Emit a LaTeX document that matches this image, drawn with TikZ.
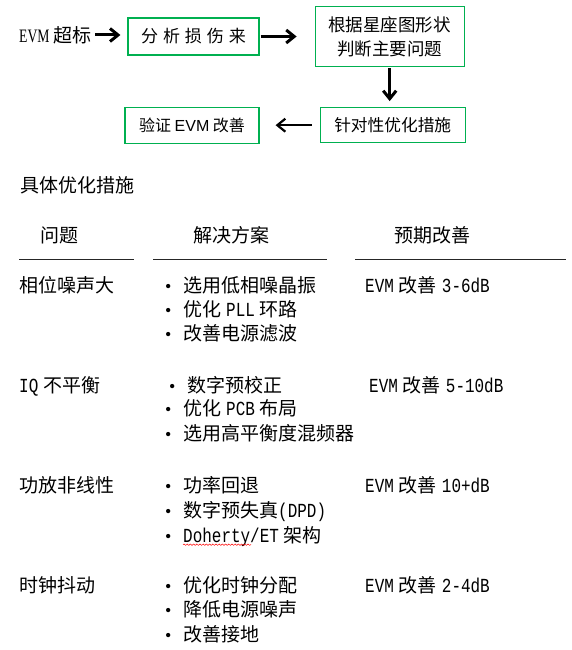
\documentclass[tikz,border=0pt]{standalone}
\usepackage{fontspec}
\setmainfont{Noto Sans CJK SC}
\newfontfamily\tl{Liberation Mono}[FakeStretch=0.8, Scale=1.05]
\newfontfamily\evmfont{Liberation Serif}[FakeStretch=0.72]
\newfontfamily\bulfont{Liberation Serif}
\newfontfamily\boxsans{Liberation Sans}
\usetikzlibrary{arrows.meta,positioning,decorations.pathmorphing}
\definecolor{boxgreen}{RGB}{0,176,80}
\newcommand\bul{\makebox[18pt][l]{\bulfont\fontsize{18}{20}\selectfont\textbullet}}
\newcommand\gap{\hspace{5pt}}

\begin{document}
\begin{tikzpicture}[x=1pt, y=-1pt,
  flow/.style={draw=boxgreen, line width=1.2pt, align=center, inner sep=0pt},
  cell/.style={anchor=west, inner sep=0pt, font=\fontsize{19}{22}\selectfont, text height=16.5pt, text depth=2.5pt},
  rule/.style={line width=0.8pt, black!85},
  >={Straight Barb[length=8pt,width=13pt]}]
\useasboundingbox (0,0) rectangle (572,650);

% flow chart
\node[flow, minimum width=131pt, minimum height=37pt, font=\fontsize{17}{20}\selectfont] (analyse) at (193.5,36.5) {分\gap 析\gap 损\gap 伤\gap 来};
\node[flow, right=55pt of analyse, minimum width=149pt, minimum height=60pt, font=\fontsize{17.5}{24}\selectfont] (judge) {根据星座图形状\\判断主要问题};
\node[flow, below=40pt of judge, xshift=3pt, minimum width=145pt, minimum height=35pt, font=\fontsize{16.7}{20}\selectfont] (optim) {针对性优化措施};
\node[flow, left=60pt of optim, minimum width=134pt, minimum height=36pt, font=\fontsize{16}{20}\selectfont] (verify) {验证 {\boxsans EVM} 改善};
\node[anchor=west, inner sep=0pt, font=\fontsize{19}{22}\selectfont] (evm) at (19,35) {{\evmfont EVM} 超标};

\draw[->, line width=3pt, shorten <=3pt, shorten >=7pt] (evm.east) -- (evm.east -| analyse.west);
\draw[->, line width=3pt, shorten <=1pt, shorten >=18pt] (analyse.east) -- (judge.west);
\draw[->, line width=3pt, shorten <=1pt, shorten >=6pt] (judge.south) -- (judge.south |- optim.north);
\draw[->, line width=2.2pt, shorten <=8pt, shorten >=16pt] (optim.west) -- (verify.east);

% table
\node[cell] (intro) at (20,185) {具体优化措施};
\node[cell] (hprob) at (40,235) {问题};
\node[cell] (hsol) at (193,235) {解决方案};
\node[cell] (hgain) at (394,235) {预期改善};
\draw[rule] (19,259) -- (134,259);
\draw[rule] (153,259) -- (327,259);
\draw[rule] (355,259) -- (566,259);

\node[cell] (p1) at (19,285) {相位噪声大};
\node[cell] (s11) at (165,285) {\bul 选用低相噪晶振};
\node[cell] (s12) at (165,309) {\bul 优化\gap{\tl PLL}\gap 环路};
\node[cell] (s13) at (165,333) {\bul 改善电源滤波};
\node[cell] (g1) at (365,285) {{\tl EVM}\gap 改善\gap{\tl 3-6dB}};

\node[cell] (p2) at (19,385) {{\tl IQ}\gap 不平衡};
\node[cell] (s21) at (169,385) {\bul 数字预校正};
\node[cell] (s22) at (165,408) {\bul 优化\gap{\tl PCB}\gap 布局};
\node[cell] (s23) at (165,433) {\bul 选用高平衡度混频器};
\node[cell] (g2) at (369,385) {{\tl EVM}\gap 改善\gap{\tl 5-10dB}};

\node[cell] (p3) at (19,485) {功放非线性};
\node[cell] (s31) at (165,485) {\bul 功率回退};
\node[cell] (s32) at (165,510) {\bul 数字预失真{\tl (DPD)}};
\node[cell] (s33) at (165,535) {\bul {\tl Doherty/ET}\gap 架构};
\node[cell] (g3) at (365,485) {{\tl EVM}\gap 改善\gap{\tl 10+dB}};
\draw[red, line width=0.5pt, decorate, decoration={snake, amplitude=0.7pt, segment length=3.2pt}] ([xshift=18pt]s33.south west) -- ++(68,0);

\node[cell] (p4) at (19,585) {时钟抖动};
\node[cell] (s41) at (165,585) {\bul 优化时钟分配};
\node[cell] (s42) at (165,609) {\bul 降低电源噪声};
\node[cell] (s43) at (165,634) {\bul 改善接地};
\node[cell] (g4) at (365,585) {{\tl EVM}\gap 改善\gap{\tl 2-4dB}};
\end{tikzpicture}
\end{document}
